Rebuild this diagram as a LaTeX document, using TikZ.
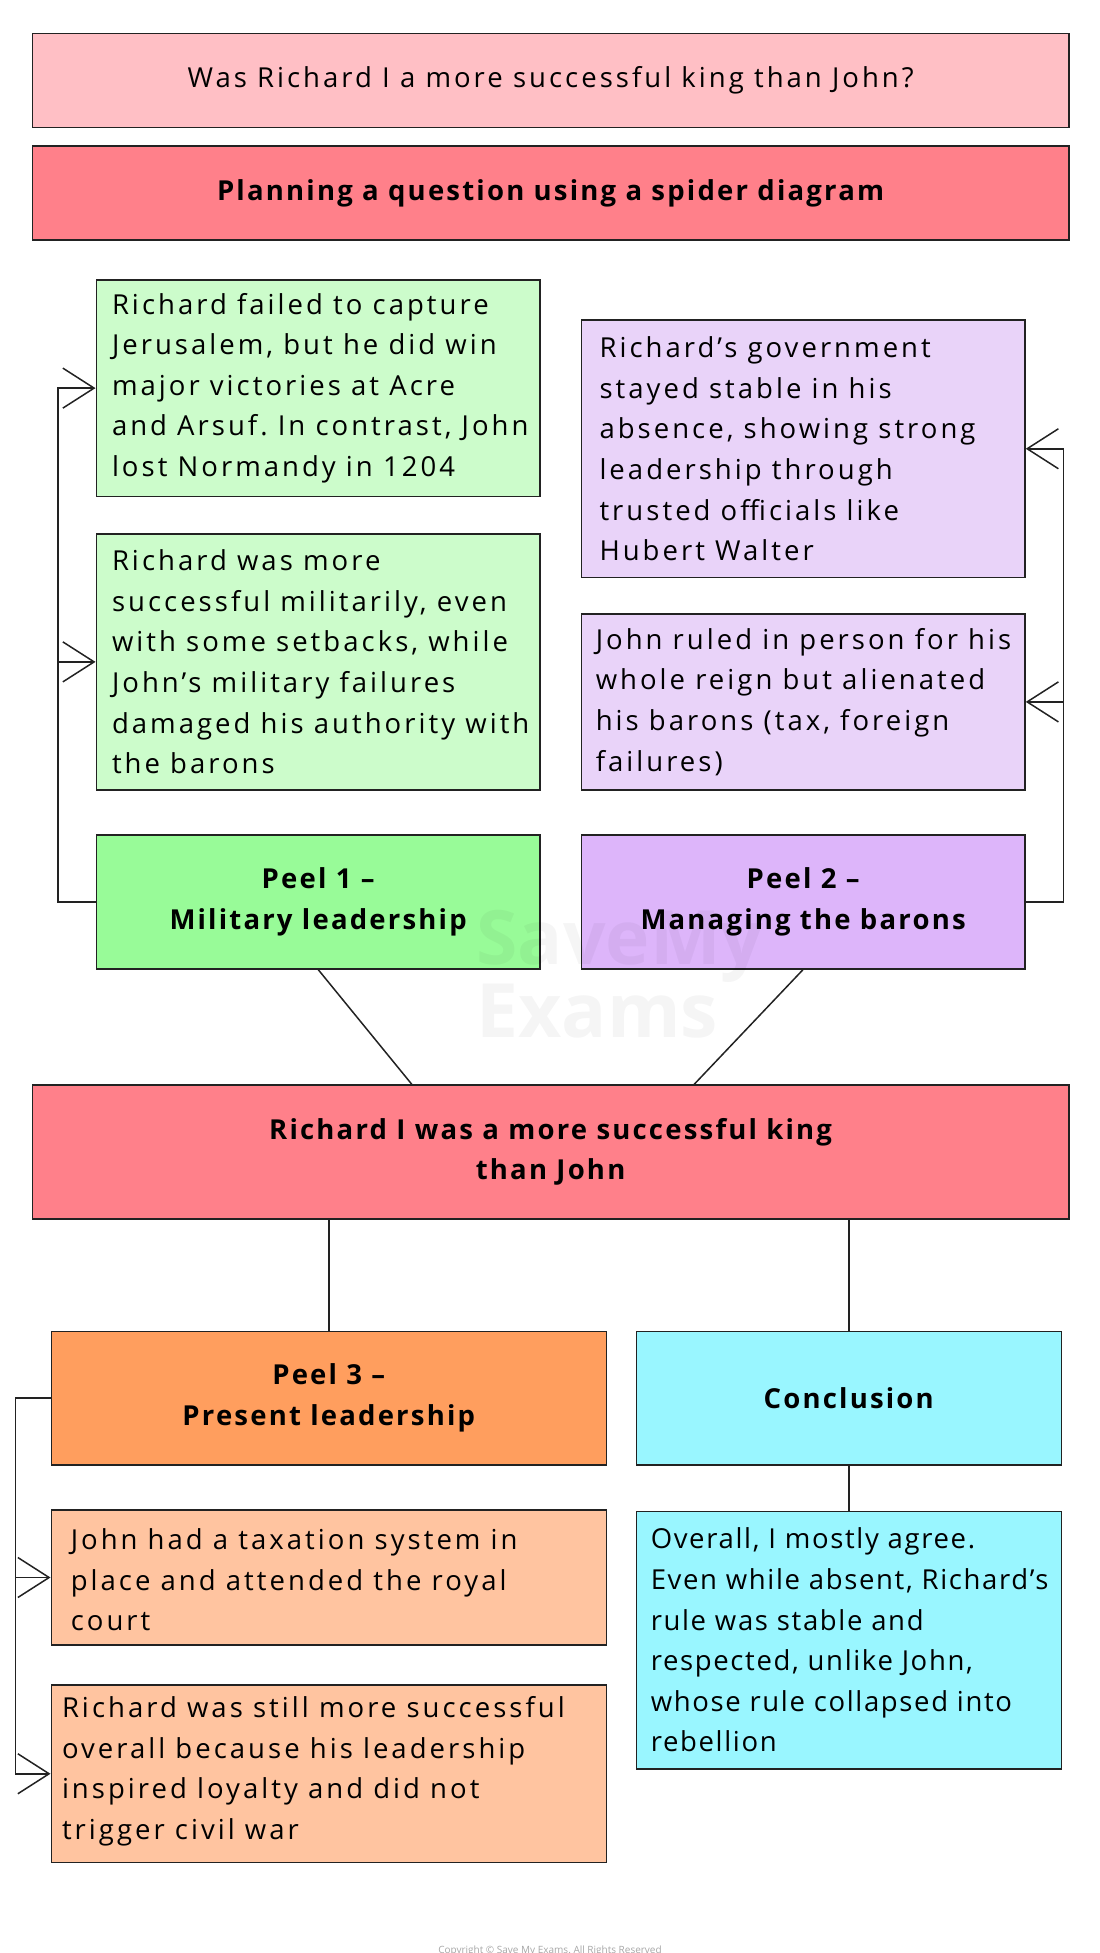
\documentclass[tikz,border=0pt]{standalone}
\usepackage{fontspec}
\setmainfont{Open Sans}
\newfontfamily\regfont[LetterSpace=11]{Open Sans}
\newfontfamily\tightfont[LetterSpace=6]{Open Sans}
\newfontfamily\headfont[LetterSpace=8]{Open Sans}
\usetikzlibrary{arrows.meta}
\definecolor{pinkL}{HTML}{FFBFC5}
\definecolor{pinkD}{HTML}{FF808A}
\definecolor{greenL}{HTML}{CCFCCB}
\definecolor{greenD}{HTML}{98FB98}
\definecolor{purpL}{HTML}{E9D3F9}
\definecolor{purpD}{HTML}{DDB5FA}
\definecolor{orangeD}{HTML}{FF9E5E}
\definecolor{orangeL}{HTML}{FFC4A0}
\definecolor{cyanL}{HTML}{99F6FF}
\definecolor{edge}{HTML}{222222}
\frenchspacing
\begin{document}
\begin{tikzpicture}[x=1pt,y=-1pt,
  box/.style={draw=edge, line width=1.2pt, inner sep=0pt},
  txt/.style={font=\regfont\fontsize{22}{32.5}\selectfont, align=left, inner sep=0pt, anchor=west},
  head/.style={font=\headfont\bfseries\fontsize{22}{32.5}\selectfont, align=center},
  conn/.style={draw=edge, line width=1.2pt},
  tip/.style={conn, -{Straight Barb[length=25pt,width=32pt]}}
]
\useasboundingbox (0,0) rectangle (880,1562.4);
% titles
\node[box, fill=pinkL, minimum width=829, minimum height=75, font=\regfont\fontsize{22}{32.5}\selectfont] (t1) at (440.5,64.5) {Was Richard I a more successful king than John?};
\node[box, fill=pinkD, minimum width=829, minimum height=75, head] (t2) at (440.5,154.5) {Planning a question using a spider diagram};
% left column
\node[box, fill=greenL, minimum width=355, minimum height=173] (a) at (254.5,310.5) {};
\node[txt] (at) at ([xshift=13pt]a.west) {Richard failed to capture\\Jerusalem, but he did win\\major victories at Acre\\and Arsuf. In contrast, John\\lost Normandy in 1204};
\node[box, fill=greenL, minimum width=355, minimum height=205] (b) at (254.5,529.5) {};
\node[txt] (bt) at ([xshift=13pt]b.west) {Richard was more\\successful militarily, even\\with some setbacks, while\\John’s military failures\\damaged his authority with\\the barons};
\node[box, fill=greenD, minimum width=355, minimum height=107, head] (p1) at (254.5,721.5) {Peel 1 –\\Military leadership};
% right column
\node[box, fill=purpL, minimum width=355, minimum height=206] (c) at (642.5,359) {};
\node[txt] (ctx) at ([xshift=15pt]c.west) {Richard’s government\\stayed stable in his\\absence, showing strong\\leadership through\\trusted officials like\\Hubert Walter};
\node[box, fill=purpL, minimum width=355, minimum height=141] (d) at (642.5,561.5) {};
\node[txt] (dt) at ([xshift=12pt]d.west) {John ruled in person for his\\whole reign but alienated\\his barons (tax, foreign\\failures)};
\node[box, fill=purpD, minimum width=355, minimum height=107, head] (p2) at (642.5,721.5) {Peel 2 –\\Managing the barons};
% main claim
\node[box, fill=pinkD, minimum width=829, minimum height=107, head] (m) at (440.5,921.5) {Richard I was a more successful king\\than John};
% bottom
\node[box, fill=orangeD, minimum width=444, minimum height=107, head] (p3) at (263,1118.5) {Peel 3 –\\Present leadership};
\node[box, fill=cyanL, minimum width=340, minimum height=107, head] (cc) at (679,1118.5) {Conclusion};
\node[box, fill=orangeL, minimum width=444, minimum height=108] (e) at (263,1262) {};
\node[txt] (et) at ([xshift=16pt,yshift=-2pt]e.west) {John had a taxation system in\\place and attended the royal\\court};
\node[box, fill=orangeL, minimum width=444, minimum height=142] (f) at (263,1419) {};
\node[txt] (ft) at ([xshift=9pt,yshift=2pt]f.west) {Richard was still more successful\\overall because his leadership\\inspired loyalty and did not\\trigger civil war};
\node[box, fill=cyanL, minimum width=340, minimum height=206] (ct) at (679,1312) {};
\node[txt, font=\tightfont\fontsize{22}{32.5}\selectfont] (ctt) at ([xshift=12pt]ct.west) {Overall, I mostly agree.\\Even while absent, Richard’s\\rule was stable and\\respected, unlike John,\\whose rule collapsed into\\rebellion};
% connectors
\draw[tip] (p1.west) -- ++(-30,0) |- (a.west);
\draw[tip] (p1.west) -- ++(-30,0) |- (b.west);
\draw[tip] (p2.east) -- ++(30,0) |- (c.east);
\draw[tip] (p2.east) -- ++(30,0) |- (d.east);
\draw[tip] (p3.west) -- ++(-28,0) |- (e.west);
\draw[tip] (p3.west) -- ++(-28,0) |- (f.west);
\draw[conn] (p1.south) -- ([xshift=304pt]m.north west);
\draw[conn] (p2.south) -- ([xshift=530pt]m.north west);
\draw[conn] (m.south -| p3.north) -- (p3.north);
\draw[conn] (m.south -| cc.north) -- (cc.north);
\draw[conn] (cc.south) -- (ct.north);
% watermark
\node[text=black, opacity=0.04, font=\bfseries\fontsize{60}{52}\selectfont, align=left, anchor=north west, inner sep=0pt] (wm) at (381,728) {SaveMy\\Exams};
% copyright
\node[text=gray!70, font=\fontsize{8}{9}\selectfont] (cp) at (440,1561) {Copyright © Save My Exams. All Rights Reserved};
\end{tikzpicture}
\end{document}
